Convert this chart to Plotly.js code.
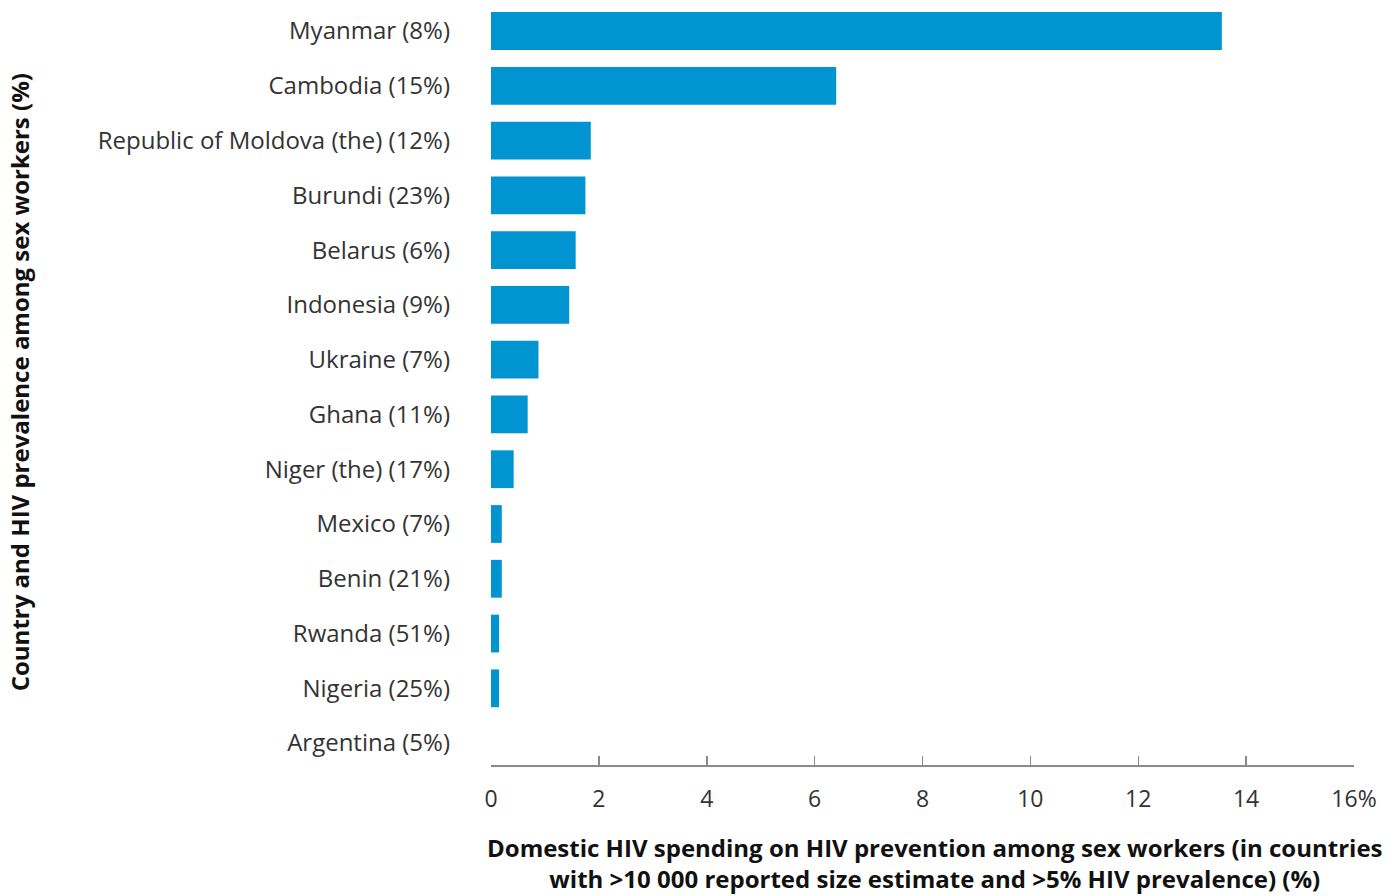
<!DOCTYPE html>
<html>
<head>
<meta charset="utf-8">
<script src="https://cdn.plot.ly/plotly-3.0.1.min.js"></script>
<style>html,body{margin:0;padding:0;background:#fff;}#chart{width:1394px;height:896px;}</style>
</head>
<body>
<div id="chart"></div>
<script>
var countries = ["Myanmar (8%)", "Cambodia (15%)", "Republic of Moldova (the) (12%)", "Burundi (23%)", "Belarus (6%)", "Indonesia (9%)", "Ukraine (7%)", "Ghana (11%)", "Niger (the) (17%)", "Mexico (7%)", "Benin (21%)", "Rwanda (51%)", "Nigeria (25%)", "Argentina (5%)"];
var spending = [13.55, 6.4, 1.85, 1.75, 1.57, 1.45, 0.88, 0.68, 0.42, 0.2, 0.2, 0.15, 0.15, 0];
var tickVals = [0, 2, 4, 6, 8, 10, 12, 14, 16];
var tickLabels = ["0", "2", "4", "6", "8", "10", "12", "14", "16%"];
var xTitleLines = ["Domestic HIV spending on HIV prevention among sex workers (in countries", "with >10 000 reported size estimate and >5% HIV prevalence) (%)"];
var yTitle = "Country and HIV prevalence among sex workers (%)";

var trace = {
  type: "bar",
  orientation: "h",
  x: spending,
  y: countries,
  width: 0.69,
  marker: {color: "#0094d0"},
  hoverinfo: "x+y"
};

var titleFont = {family: "'Open Sans', sans-serif", size: 24, color: "#111111", weight: 700};

var layout = {
  width: 1394,
  height: 896,
  margin: {l: 491, r: 40, t: 0, b: 131, pad: 0},
  paper_bgcolor: "#ffffff",
  plot_bgcolor: "#ffffff",
  font: {family: "'Open Sans', sans-serif", color: "#333333", size: 23},
  showlegend: false,
  xaxis: {
    range: [0, 16],
    tickvals: tickVals,
    ticktext: tickLabels,
    showgrid: false,
    zeroline: false,
    showline: true,
    linecolor: "#8a8a8a",
    linewidth: 1.5,
    ticks: "inside",
    ticklen: 9,
    tickwidth: 1.5,
    tickcolor: "#8a8a8a",
    tickfont: {size: 23, color: "#333333"},
    ticklabelstandoff: 13
  },
  yaxis: {
    type: "category",
    range: [13.40, -0.566],
    showgrid: false,
    zeroline: false,
    showline: false,
    ticks: "",
    tickfont: {size: 24, color: "#333333"},
    ticklabelstandoff: 40
  },
  annotations: [
    {text: "<b>" + xTitleLines.join("<br>") + "</b>", xref: "paper", yref: "paper", x: 0.514, y: -0.171, xanchor: "center", yanchor: "bottom", showarrow: false, font: titleFont, borderpad: 0},
    {text: "<b>" + yTitle + "</b>", xref: "paper", yref: "paper", x: -0.546, y: 0.5, xanchor: "center", yanchor: "middle", textangle: -90, showarrow: false, font: titleFont}
  ]
};

Plotly.newPlot("chart", [trace], layout, {displayModeBar: false, staticPlot: true});
</script>
</body>
</html>
